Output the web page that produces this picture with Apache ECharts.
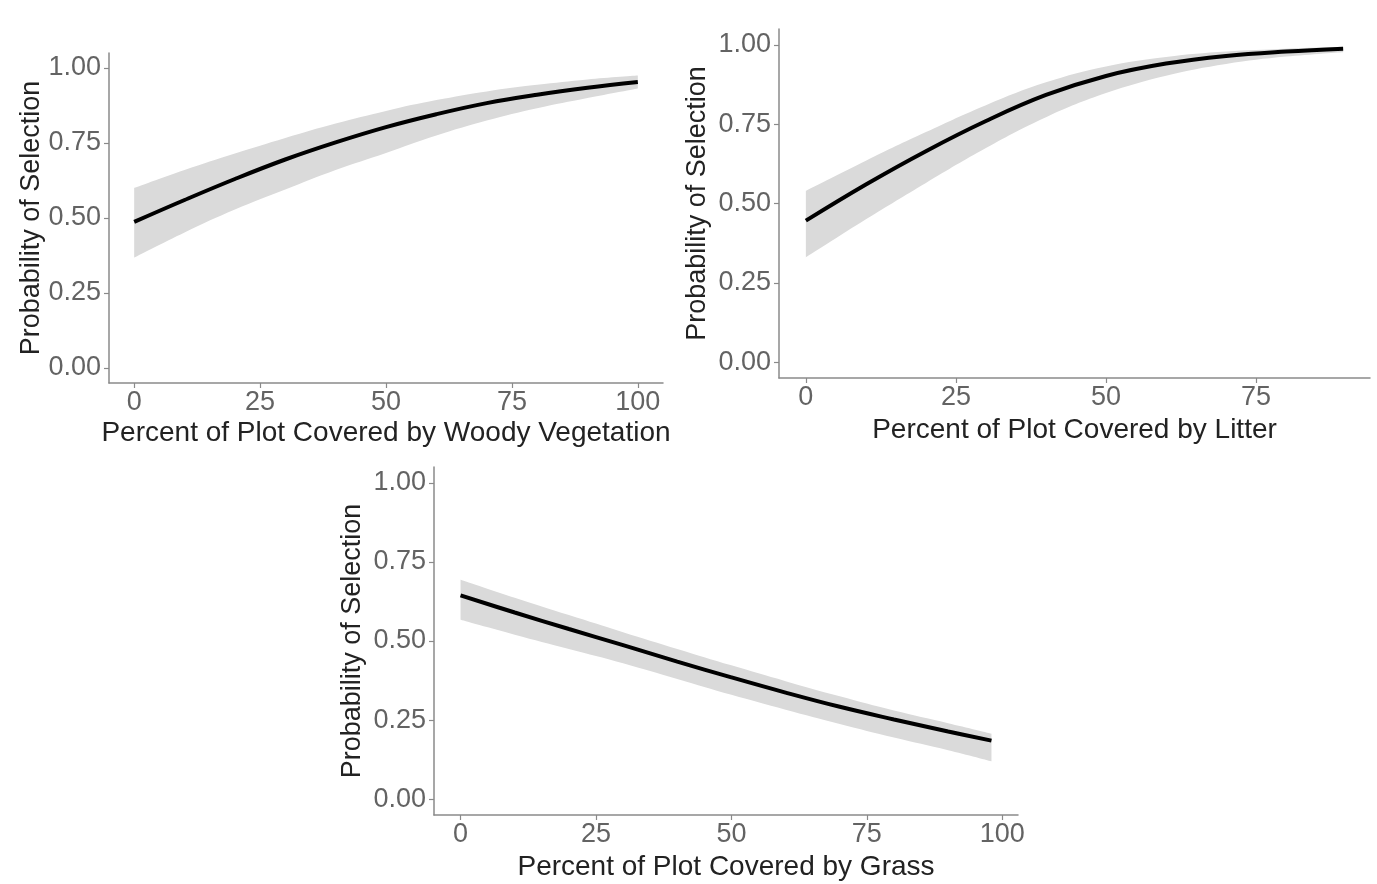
<!DOCTYPE html>
<html><head><meta charset="utf-8">
<script src="https://cdn.jsdelivr.net/npm/echarts@6/dist/echarts.min.js"></script>
<style>html,body{margin:0;padding:0;background:#fff}#c{width:1377px;height:884px}</style>
</head><body><div id="c"></div>
<script>
// Panel 1: Woody vegetation
const woodyX     = [0, 10, 20, 30, 40, 50, 60, 70, 80, 90, 100];
const woodyFit   = [0.487, 0.56, 0.63, 0.695, 0.752, 0.803, 0.846, 0.883, 0.911, 0.934, 0.953];
const woodyLower = [0.368, 0.452, 0.528, 0.595, 0.66, 0.717, 0.775, 0.825, 0.866, 0.90, 0.932];
const woodyUpper = [0.60, 0.66, 0.715, 0.767, 0.815, 0.857, 0.893, 0.922, 0.944, 0.962, 0.975];
// Panel 2: Litter
const litterX     = [0, 10, 20, 30, 40, 50, 60, 70, 80, 89.5];
const litterFit   = [0.446, 0.56, 0.665, 0.76, 0.842, 0.902, 0.941, 0.965, 0.979, 0.988];
const litterLower = [0.33, 0.45, 0.565, 0.675, 0.772, 0.848, 0.903, 0.94, 0.963, 0.977];
const litterUpper = [0.54, 0.635, 0.725, 0.81, 0.882, 0.932, 0.962, 0.979, 0.988, 0.994];
// Panel 3: Grass
const grassX     = [0, 10, 20, 30, 40, 50, 60, 70, 80, 90, 98];
const grassFit   = [0.644, 0.59, 0.538, 0.487, 0.435, 0.385, 0.337, 0.292, 0.252, 0.214, 0.185];
const grassLower = [0.567, 0.52, 0.475, 0.43, 0.38, 0.33, 0.283, 0.238, 0.195, 0.155, 0.12];
const grassUpper = [0.694, 0.637, 0.582, 0.528, 0.475, 0.423, 0.373, 0.325, 0.28, 0.24, 0.207];

const xTicks100 = [0, 25, 50, 75, 100];
const xTicksLitter = [0, 25, 50, 75];
const yTicks = [0, 0.25, 0.5, 0.75, 1];
const yTitle = 'Probability of Selection';
const xTitles = ['Percent of Plot Covered by Woody Vegetation', 'Percent of Plot Covered by Litter', 'Percent of Plot Covered by Grass'];

const FONT = 'Liberation Sans, Arial, sans-serif';
const AXC = '#8a8a8a';

function xAxis(gi, min, max, ticks, name, gap) {
  return {
    type: 'value', gridIndex: gi, min: min, max: max,
    name: name, nameLocation: 'middle', nameGap: gap,
    nameTextStyle: {fontFamily: FONT, fontSize: 28, color: '#222'},
    axisLine: {show: true, onZero: false, lineStyle: {color: AXC, width: 1.5}},
    axisTick: {show: true, length: 5, customValues: ticks, lineStyle: {color: AXC, width: 1.2}},
    axisLabel: {customValues: ticks, margin: 6, fontFamily: FONT, fontSize: 27, color: '#636363'},
    splitLine: {show: false}
  };
}
function yAxis(gi, gap) {
  return {
    type: 'value', gridIndex: gi, min: -0.05, max: 1.05,
    name: yTitle, nameLocation: 'middle', nameGap: gap, nameRotate: 90,
    nameTextStyle: {fontFamily: FONT, fontSize: 27, color: '#222'},
    axisLine: {show: true, onZero: false, lineStyle: {color: AXC, width: 1.5}},
    axisTick: {show: true, length: 5, customValues: yTicks, lineStyle: {color: AXC, width: 1.2}},
    axisLabel: {customValues: yTicks, margin: 8, fontFamily: FONT, fontSize: 27, color: '#636363',
      formatter: function (v) { return Number(v).toFixed(2); }},
    splitLine: {show: false}
  };
}
function pairs(xs, ys) { return xs.map(function (x, i) { return [x, ys[i]]; }); }
// [y, x] order so that the stack is applied to the y dimension
function yxPairs(xs, ys) { return xs.map(function (x, i) { return [ys[i], x]; }); }
function yxDiffs(xs, lo, up) { return xs.map(function (x, i) { return [+(up[i] - lo[i]).toFixed(4), x]; }); }

function panelSeries(gi, xs, fit, lo, up) {
  const st = 'band' + gi;
  return [
    {type: 'line', xAxisIndex: gi, yAxisIndex: gi, stack: st, data: yxPairs(xs, lo), encode: {x: 1, y: 0},
      smooth: 0.4, symbol: 'none', lineStyle: {opacity: 0}, silent: true, z: 1},
    {type: 'line', xAxisIndex: gi, yAxisIndex: gi, stack: st, data: yxDiffs(xs, lo, up), encode: {x: 1, y: 0},
      smooth: 0.4, symbol: 'none', lineStyle: {opacity: 0}, areaStyle: {color: '#dadada', opacity: 1}, silent: true, z: 1},
    {type: 'line', xAxisIndex: gi, yAxisIndex: gi, data: pairs(xs, fit), smooth: 0.4,
      symbol: 'none', lineStyle: {color: '#000', width: 4}, z: 3}
  ];
}

const chart = echarts.init(document.getElementById('c'));
chart.setOption({
  animation: false,
  backgroundColor: '#fff',
  grid: [
    {left: 109, top: 53, width: 554, height: 330},
    {left: 779, top: 29, width: 591, height: 349},
    {left: 434, top: 467, width: 584, height: 348}
  ],
  xAxis: [
    xAxis(0, -5, 105, xTicks100, xTitles[0], 36),
    xAxis(1, -4.475, 93.975, xTicksLitter, xTitles[1], 38),
    xAxis(2, -4.9, 102.9, xTicks100, xTitles[2], 38)
  ],
  yAxis: [yAxis(0, 61), yAxis(1, 68), yAxis(2, 68)],
  series: [].concat(
    panelSeries(0, woodyX, woodyFit, woodyLower, woodyUpper),
    panelSeries(1, litterX, litterFit, litterLower, litterUpper),
    panelSeries(2, grassX, grassFit, grassLower, grassUpper)
  )
});
</script></body></html>
